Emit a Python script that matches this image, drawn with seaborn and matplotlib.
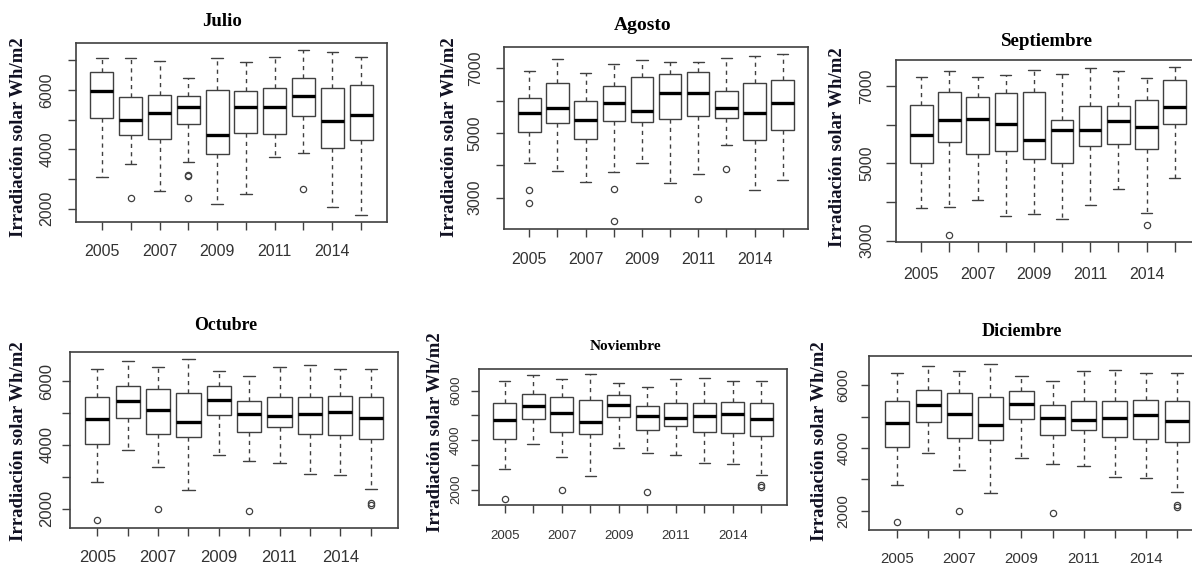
import numpy as np
import pandas as pd
import matplotlib
matplotlib.use("Agg")
import matplotlib.pyplot as plt
import seaborn as sns

# ---------------- data (five-number summaries) ----------------
years = ["2005", "2006", "2007", "2008", "2009", "2010", "2011", "2013", "2014", "2015"]
shown_labels = ["2005", "", "2007", "", "2009", "", "2011", "", "2014", ""]

jul_lo  = [3080, 3500, 2610, 3570, 2150, 2490, 3750, 3880, 2050, 1790]
jul_q1  = [5070, 4480, 4350, 4840, 3840, 4540, 4500, 5110, 4060, 4310]
jul_med = [5960, 4980, 5210, 5410, 4480, 5430, 5410, 5810, 4940, 5140]
jul_q3  = [6610, 5750, 5840, 5800, 6000, 5950, 6070, 6400, 6060, 6160]
jul_hi  = [7060, 7060, 6990, 6400, 7060, 6930, 7100, 7330, 7270, 7120]
jul_out = [[], [2350], [], [3100, 3130, 2350], [], [], [], [2650], [], []]

ago_lo  = [4060, 3840, 3500, 3800, 4080, 3440, 3720, 4620, 3240, 3560]
ago_q1  = [5040, 5300, 4830, 5360, 5340, 5420, 5520, 5460, 4790, 5100]
ago_med = [5610, 5770, 5400, 5930, 5680, 6230, 6230, 5770, 5610, 5930]
ago_q3  = [6070, 6540, 5990, 6450, 6720, 6830, 6900, 6300, 6540, 6640]
ago_hi  = [6920, 7290, 6860, 7130, 7250, 7200, 7200, 7320, 7380, 7440]
ago_out = [[3250, 2850], [], [], [3280, 2270], [], [], [2970], [3900], [], []]

sep_lo  = [3850, 3870, 4040, 3640, 3700, 3570, 3930, 4340, 3720, 4610]
sep_q1  = [5000, 5540, 5230, 5310, 5100, 5020, 5440, 5490, 5380, 6020]
sep_med = [5730, 6110, 6140, 6030, 5600, 5870, 5870, 6090, 5930, 6460]
sep_q3  = [6510, 6840, 6720, 6820, 6840, 6120, 6480, 6480, 6650, 7160]
sep_hi  = [7230, 7400, 7230, 7290, 7420, 7310, 7470, 7380, 7210, 7490]
sep_out = [[], [3150], [], [], [], [], [], [], [3400], []]

oct_lo  = [2830, 3830, 3310, 2570, 3690, 3490, 3420, 3080, 3050, 2610]
oct_q1  = [4040, 4840, 4330, 4250, 4930, 4400, 4570, 4340, 4300, 4180]
oct_med = [4800, 5360, 5080, 4720, 5420, 4970, 4890, 4970, 5040, 4850]
oct_q3  = [5510, 5850, 5740, 5640, 5830, 5360, 5490, 5510, 5540, 5490]
oct_hi  = [6390, 6620, 6450, 6680, 6310, 6150, 6450, 6490, 6390, 6390]
oct_out = [[1630], [], [1980], [], [], [1920], [], [], [], [2180, 2120]]

# Noviembre and Diciembre show the same distributions as Octubre
nov_lo, nov_q1, nov_med, nov_q3, nov_hi, nov_out = oct_lo, oct_q1, oct_med, oct_q3, oct_hi, oct_out
dic_lo, dic_q1, dic_med, dic_q3, dic_hi, dic_out = oct_lo, oct_q1, oct_med, oct_q3, oct_hi, oct_out

months = ["Julio", "Agosto", "Septiembre", "Octubre", "Noviembre", "Diciembre"]
summaries = [
    (jul_lo, jul_q1, jul_med, jul_q3, jul_hi, jul_out),
    (ago_lo, ago_q1, ago_med, ago_q3, ago_hi, ago_out),
    (sep_lo, sep_q1, sep_med, sep_q3, sep_hi, sep_out),
    (oct_lo, oct_q1, oct_med, oct_q3, oct_hi, oct_out),
    (nov_lo, nov_q1, nov_med, nov_q3, nov_hi, nov_out),
    (dic_lo, dic_q1, dic_med, dic_q3, dic_hi, dic_out),
]


def table_from_summary(lo, q1, med, q3, hi, out):
    """Build a long table whose quartiles/whiskers reproduce the summaries."""
    rows = []
    for i, y in enumerate(years):
        vals = [lo[i]] + [q1[i]] * 20 + [med[i]] * 20 + [q3[i]] * 20 + [hi[i]] + list(out[i])
        rows += [(y, v) for v in vals]
    return pd.DataFrame(rows, columns=["year", "value"])


# ---------------- layout (pixels) ----------------
W, H = 1192, 565
frames = [  # left, top, right, bottom of the plot box
    (76, 43, 387, 222),
    (504, 47, 808, 229),
    (896, 60, 1200, 242),
    (70, 352, 398, 528),
    (479, 369, 787, 505),
    (869, 356, 1205, 530),
]
ylims = [(1552, 7582), (2031, 7660), (2965, 7674), (1393, 6911), (1383, 6872), (1383, 6936)]
yticks_all = [range(2000, 7001, 1000), range(3000, 7001, 1000), range(3000, 7001, 1000),
              range(2000, 6001, 1000), range(2000, 6001, 1000), range(2000, 6001, 1000)]
ylabel_show = [{2000, 4000, 6000}, {3000, 5000, 7000}, {3000, 5000, 7000},
               {2000, 4000, 6000}, {2000, 4000, 6000}, {2000, 4000, 6000}]
title_pos = [(222, 22), (643, 26), (1047, 42), (226, 325), (625, 347), (1022, 332)]
title_size = [13.6, 14, 13.6, 12.8, 11, 13.1]
ylab_pos = [(19, 137), (450, 137), (838, 147), (19, 441), (435, 432), (820, 441)]
tick_size = [11.5, 11.5, 11.5, 12, 9.5, 10.8]
tick_len = [5.8, 5.8, 7.0, 5.8, 5.8, 5.8]
xpad = [9.9, 10.6, 11.0, 10.4, 12.1, 10.2]
ypad = [9.5, 9.5, 8.5, 5.3, 6.5, 7.6]

sns.set_theme(style="ticks")
plt.rcParams["font.family"] = ["Liberation Sans", "DejaVu Sans"]

fig = plt.figure(figsize=(W / 100, H / 100), dpi=100)
fig.patch.set_facecolor("white")

edge = "#404040"
for k in range(6):
    l, t, r, b = frames[k]
    ax = fig.add_axes([l / W, 1 - b / H, (r - l) / W, (b - t) / H])
    df = table_from_summary(*summaries[k])
    sns.boxplot(
        data=df, x="year", y="value", order=years, ax=ax,
        color="white", linecolor=edge, linewidth=1.0, width=0.8, whis=1.5,
        medianprops=dict(color="black", linewidth=2.4),
        whiskerprops=dict(color=edge, linewidth=1.0, linestyle=(0, (3, 3))),
        capprops=dict(color=edge, linewidth=1.0),
        flierprops=dict(marker="o", markerfacecolor="none", markeredgecolor=edge,
                        markersize=4.5, markeredgewidth=0.9),
        capwidths=0.4,
    )
    ax.set_xlim(-0.9, 9.9)
    ax.set_ylim(*ylims[k])
    ax.set_xticks(range(len(years)))
    ax.set_xticklabels(shown_labels)
    yt = list(yticks_all[k])
    ax.set_yticks(yt)
    ax.set_yticklabels([str(v) if v in ylabel_show[k] else "" for v in yt])
    ax.set_xlabel("")
    ax.set_ylabel("")
    ax.tick_params(axis="both", direction="out", length=tick_len[k], width=1.0, color=edge,
                   labelsize=tick_size[k], labelcolor="#333333")
    ax.tick_params(axis="x", pad=xpad[k])
    ax.tick_params(axis="y", pad=ypad[k])
    for lab in ax.get_yticklabels():
        lab.set_rotation(90)
        lab.set_va("center")
    for sp in ax.spines.values():
        sp.set_visible(True)
        sp.set_color(edge)
        sp.set_linewidth(1.2)
    ax.grid(False)
    ax.set_facecolor("white")

    tx, ty = title_pos[k]
    fig.text(tx / W, 1 - ty / H, months[k], ha="center", va="center",
             family="Liberation Serif", fontweight="bold", fontsize=title_size[k], color="black")
    lx, ly = ylab_pos[k]
    fig.text(lx / W, 1 - ly / H, "Irradiación solar Wh/m2", ha="center", va="center",
             rotation=90, family="Liberation Serif", fontweight="bold", fontsize=13.5,
             color="#111122")

fig.savefig("out.png", dpi=100, facecolor="white")
